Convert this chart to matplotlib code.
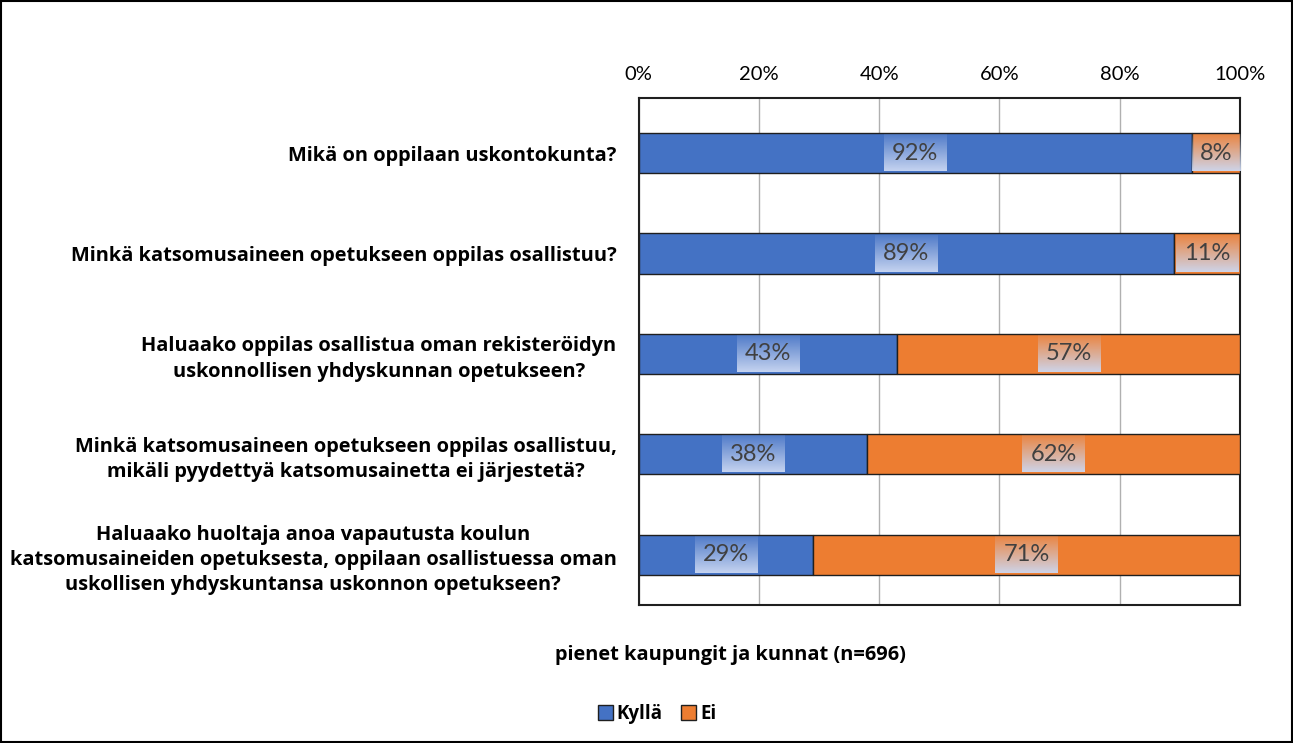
import numpy as np
import matplotlib.pyplot as plt
from matplotlib.patches import Rectangle

questions = [
    'Mikä on oppilaan uskontokunta?',
    'Minkä katsomusaineen opetukseen oppilas osallistuu?',
    'Haluaako oppilas osallistua oman rekisteröidyn\nuskonnollisen yhdyskunnan opetukseen?',
    'Minkä katsomusaineen opetukseen oppilas osallistuu,\nmikäli pyydettyä katsomusainetta ei järjestetä?',
    'Haluaako huoltaja anoa vapautusta koulun\nkatsomusaineiden opetuksesta, oppilaan osallistuessa oman\nuskollisen yhdyskuntansa uskonnon opetukseen?',
]
kylla = [92, 89, 43, 38, 29]
ei = [8, 11, 57, 62, 71]

plt.rcParams['font.family'] = ['Lato', 'DejaVu Sans']
bold = {'family': ['Open Sans', 'DejaVu Sans'], 'weight': 'bold', 'size': 14.4}

fig = plt.figure(figsize=(12.93, 7.43), dpi=100)
ax = fig.add_axes([0.494, 0.186, 0.465, 0.682])

y = list(range(len(questions)))
h = 0.4
ax.barh(y, kylla, h, color='#4472c4', edgecolor='#1f1f1f', linewidth=1, label='Kyllä', zorder=3)
ax.barh(y, ei, h, left=kylla, color='#ed7d31', edgecolor='#1f1f1f', linewidth=1, label='Ei', zorder=3)

labels = []
for i in y:
    labels.append((i, ax.text(kylla[i] / 2, i, f'{kylla[i]}%', ha='center', va='center',
                              fontsize=17, color='#404040', zorder=5)))
    labels.append((i, ax.text(kylla[i] + ei[i] / 2, i, f'{ei[i]}%', ha='center', va='center',
                              fontsize=17, color='#404040', zorder=5)))

ax.set_xlim(0, 100)
ylim = (len(questions) - 0.502, -0.547)
ax.set_ylim(*ylim)
ax.set_xticks([0, 20, 40, 60, 80, 100])
ax.set_xticklabels([f'{v}%' for v in [0, 20, 40, 60, 80, 100]])
ax.xaxis.tick_top()
ax.tick_params(axis='x', length=0, pad=11, labelsize=14.5)
ax.set_yticks(y)
ax.set_yticklabels(questions, fontdict=bold, multialignment='center', linespacing=1.35)
ax.tick_params(axis='y', length=0, pad=16)
ax.grid(axis='x', color='#b0b0b0', linewidth=1, zorder=0)
for s in ax.spines.values():
    s.set_color('#1f1f1f')
    s.set_linewidth(1.5)

# gradient boxes behind value labels
fig.canvas.draw()
inv = ax.transData.inverted()
grad = np.zeros((50, 1, 4))
grad[:, 0, 0] = 0.80
grad[:, 0, 1] = 0.85
grad[:, 0, 2] = 0.95
grad[:, 0, 3] = np.linspace(0.1, 0.95, 50)
for i, t in labels:
    bb = t.get_window_extent()
    (x0, _), (x1, _) = inv.transform([(bb.x0 - 8, 0), (bb.x1 + 8, 0)])
    ax.imshow(grad, extent=(x0, x1, i + h / 2 - 0.02, i - h / 2 + 0.02), aspect='auto',
              zorder=4, interpolation='bilinear')
ax.set_xlim(0, 100)
ax.set_ylim(*ylim)

fig.text(0.5646, 0.118, 'pienet kaupungit ja kunnat (n=696)', ha='center', va='center',
         fontdict=bold)
fig.legend(loc='center', bbox_to_anchor=(0.508, 0.039), ncol=2, frameon=False,
           handlelength=0.8, handleheight=0.8, handletextpad=0.2, columnspacing=1.0,
           prop={'family': ['Open Sans', 'DejaVu Sans'], 'weight': 'bold', 'size': 13.5})

fig.patches.append(Rectangle((0.001, 0.001), 0.998, 0.997, transform=fig.transFigure,
                             fill=False, edgecolor='black', linewidth=1.5))

fig.savefig('out.png', dpi=100)
